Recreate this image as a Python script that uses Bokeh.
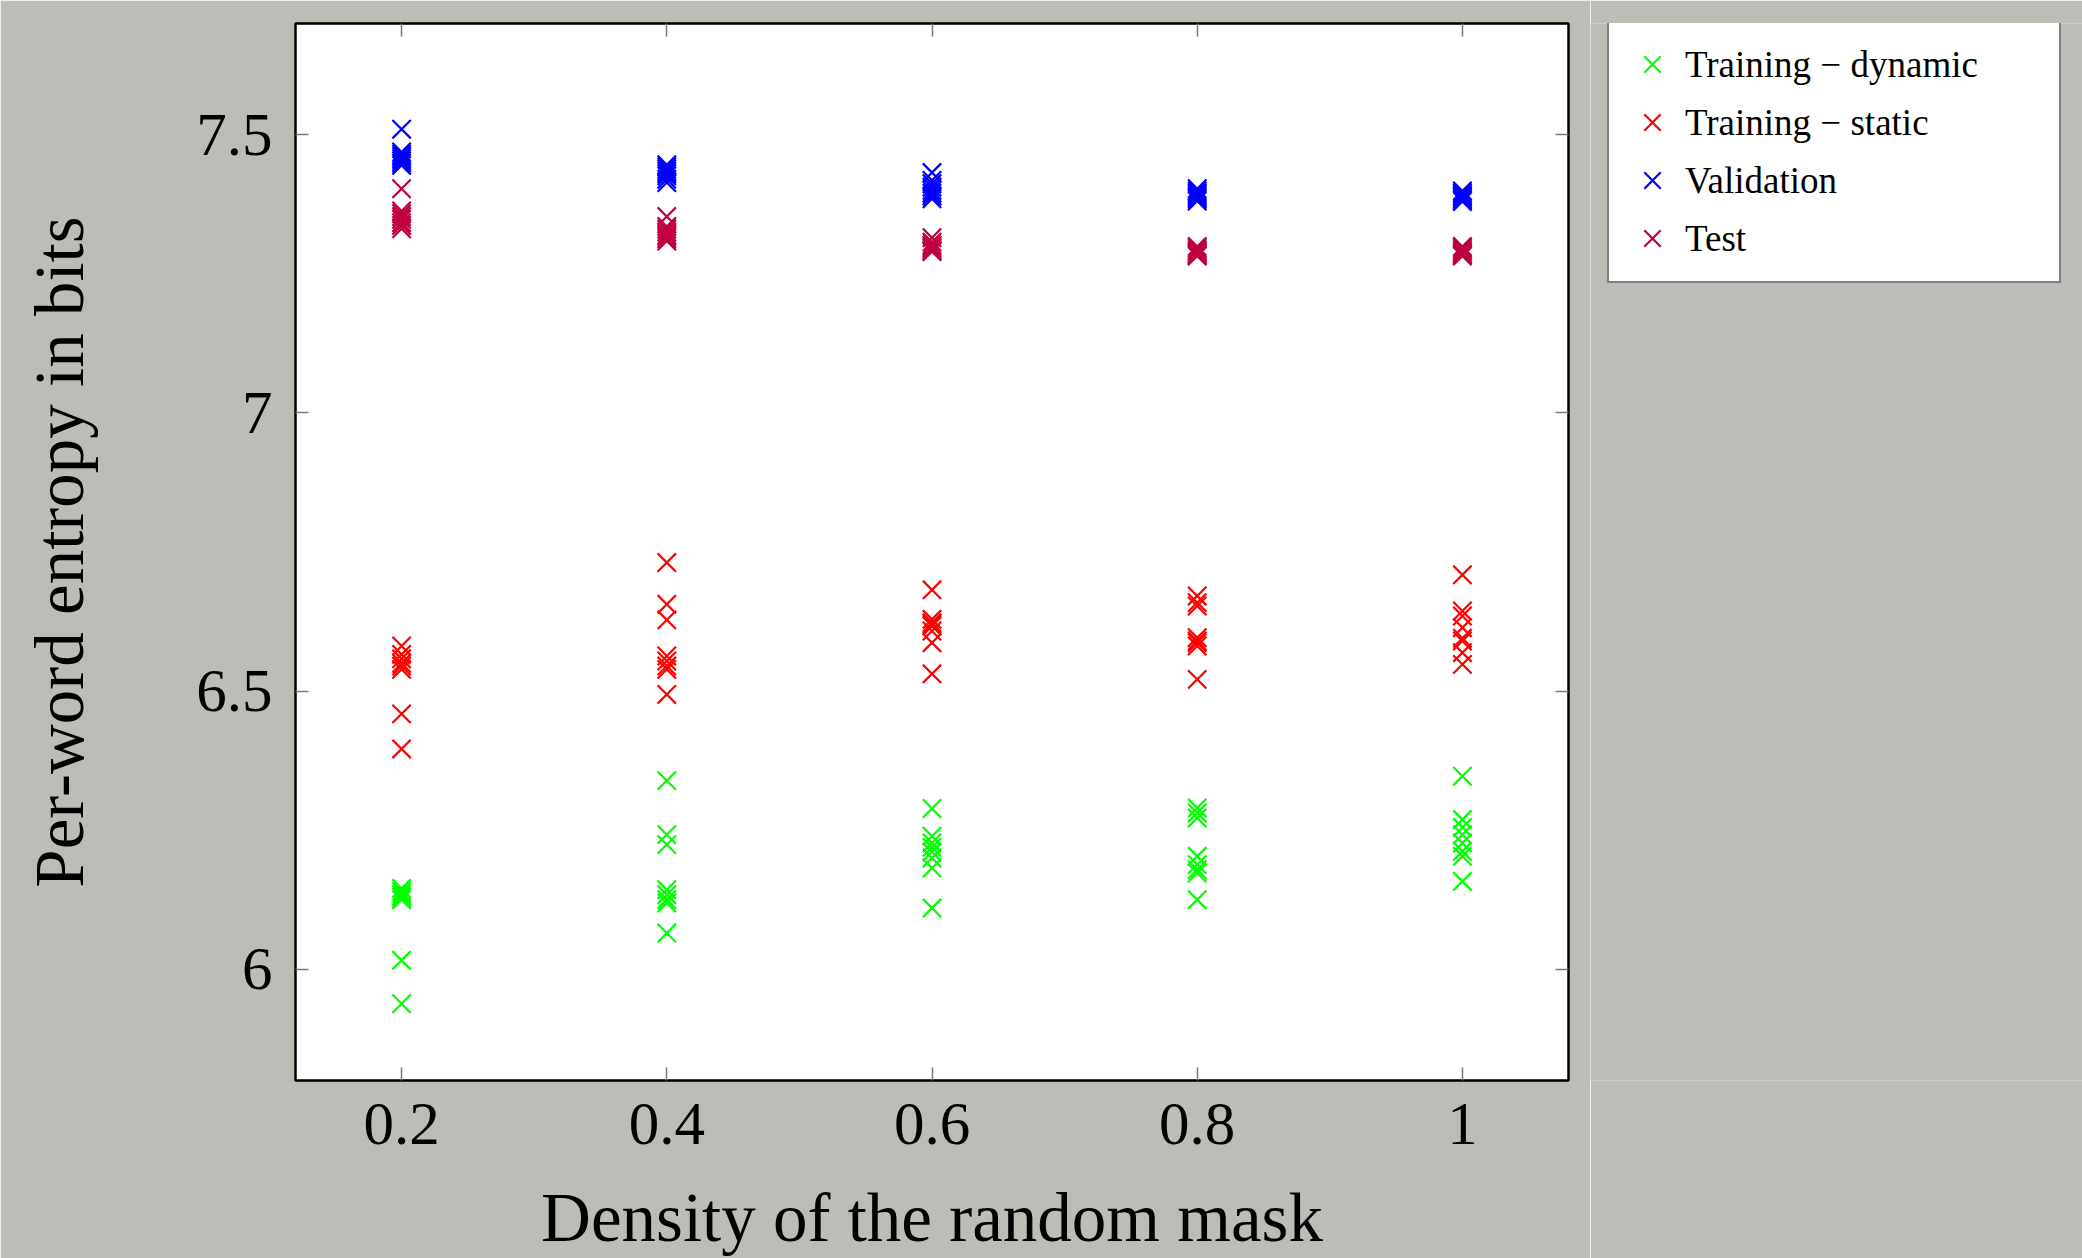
from bokeh.plotting import figure
from bokeh.layouts import row
from bokeh.models import Range1d, FixedTicker, LinearAxis, Legend, LegendItem, ColumnDataSource
from bokeh.embed import file_html
from bokeh.resources import INLINE

# ---- data ----
density = [0.2, 0.4, 0.6, 0.8, 1.0]

train_dynamic = [
    [6.145, 6.140, 6.135, 6.130, 6.130, 6.125, 6.016, 5.938],
    [6.339, 6.242, 6.224, 6.143, 6.134, 6.125, 6.119, 6.065],
    [6.289, 6.239, 6.227, 6.219, 6.211, 6.200, 6.182, 6.110],
    [6.290, 6.281, 6.272, 6.203, 6.188, 6.179, 6.173, 6.125],
    [6.347, 6.269, 6.255, 6.242, 6.227, 6.212, 6.203, 6.158],
]
train_static = [
    [6.581, 6.566, 6.558, 6.550, 6.545, 6.539, 6.459, 6.396],
    [6.731, 6.656, 6.628, 6.563, 6.554, 6.545, 6.539, 6.494],
    [6.682, 6.629, 6.623, 6.620, 6.617, 6.608, 6.587, 6.531],
    [6.671, 6.659, 6.653, 6.596, 6.590, 6.587, 6.581, 6.521],
    [6.709, 6.644, 6.635, 6.614, 6.595, 6.590, 6.569, 6.548],
]
validation = [
    [7.510, 7.469, 7.465, 7.461, 7.457, 7.453, 7.449, 7.445],
    [7.446, 7.442, 7.438, 7.434, 7.430, 7.426, 7.420, 7.414],
    [7.432, 7.418, 7.412, 7.406, 7.400, 7.395, 7.390, 7.385],
    [7.403, 7.399, 7.396, 7.393, 7.390, 7.387, 7.384, 7.381],
    [7.399, 7.396, 7.393, 7.390, 7.388, 7.385, 7.383, 7.380],
]
test = [
    [7.403, 7.363, 7.358, 7.353, 7.348, 7.342, 7.337, 7.331],
    [7.353, 7.335, 7.330, 7.325, 7.320, 7.317, 7.313, 7.309],
    [7.315, 7.307, 7.302, 7.299, 7.296, 7.293, 7.291, 7.290],
    [7.299, 7.296, 7.293, 7.290, 7.288, 7.286, 7.284, 7.282],
    [7.299, 7.296, 7.293, 7.290, 7.288, 7.286, 7.284, 7.282],
]

series_names = ["Training − dynamic", "Training − static", "Validation", "Test"]
series_colors = ["#00FF00", "#FF0000", "#0000FF", "#BF0040"]

x_ticks = [0.2, 0.4, 0.6, 0.8, 1.0]
x_tick_labels = ["0.2", "0.4", "0.6", "0.8", "1"]
y_ticks = [6, 6.5, 7, 7.5]
y_tick_labels = ["6", "6.5", "7", "7.5"]

FONT = "Liberation Serif"
BG = "#BBBDB7"

# ---- main plot ----
p = figure(width=1590, height=1258, output_backend="svg", toolbar_location=None,
           x_range=Range1d(0.12, 1.08), y_range=Range1d(5.8, 7.7),
           min_border_left=295, min_border_right=22, min_border_top=23, min_border_bottom=178,
           border_fill_color=BG, background_fill_color="white")
p.grid.visible = False
p.outline_line_color = "black"
p.outline_line_width = 2.5

# ---- legend panel (same height, frames aligned) ----
q = figure(width=492, height=1258, output_backend="svg", toolbar_location=None,
           x_range=Range1d(0, 1), y_range=Range1d(0, 1),
           x_axis_type=None, y_axis_type=None,
           min_border_left=0, min_border_right=0, min_border_top=23, min_border_bottom=178,
           border_fill_color=BG, background_fill_color=BG)
q.grid.visible = False
q.outline_line_color = None

items = []
for name, color, data in zip(series_names, series_colors, [train_dynamic, train_static, validation, test]):
    xs, ys = [], []
    for d, vals in zip(density, data):
        for v in vals:
            xs.append(d)
            ys.append(v)
    src = ColumnDataSource(dict(x=xs, y=ys))
    p.scatter("x", "y", source=src, marker="x", size=26, line_color=color, line_width=2.2)
    # legend proxy: same source and style, lies outside q's ranges so only its legend glyph shows
    proxy = q.scatter("x", "y", source=src, marker="x", size=26, line_color=color, line_width=2.2)
    items.append(LegendItem(label=name, renderers=[proxy]))

xt = FixedTicker(ticks=x_ticks)
yt = FixedTicker(ticks=y_ticks)

def style_axis(ax, labels=True):
    ax.axis_line_color = None
    ax.major_tick_in = 13
    ax.major_tick_out = 0
    ax.major_tick_line_color = "#777777"
    ax.major_tick_line_width = 1.5
    ax.minor_tick_line_color = None
    ax.major_label_text_font = FONT
    ax.major_label_text_color = "black"
    ax.axis_label_text_font = FONT
    ax.axis_label_text_font_style = "normal"
    ax.axis_label_text_color = "black"
    if not labels:
        ax.major_label_text_color = None
        ax.major_label_text_font_size = "1px"
        ax.major_label_standoff = 0

xa = p.xaxis[0]
xa.ticker = xt
style_axis(xa)
xa.major_label_overrides = {t: l for t, l in zip(x_ticks, x_tick_labels)}
xa.major_label_text_font_size = "61px"
xa.major_label_standoff = 23
xa.axis_label = "Density of the random mask"
xa.axis_label_text_font_size = "69px"
xa.axis_label_standoff = 33

ya = p.yaxis[0]
ya.ticker = yt
style_axis(ya)
ya.major_label_overrides = {t: l for t, l in zip(y_ticks, y_tick_labels)}
ya.major_label_text_font_size = "61px"
ya.major_label_standoff = 23
ya.axis_label = "Per-word entropy in bits"
ya.axis_label_text_font_size = "69px"
ya.axis_label_standoff = 95

top_ax = LinearAxis(ticker=xt)
style_axis(top_ax, labels=False)
p.add_layout(top_ax, "above")
right_ax = LinearAxis(ticker=yt)
style_axis(right_ax, labels=False)
p.add_layout(right_ax, "right")

legend = Legend(items=items, location=(17, 797))
legend.label_text_font = FONT
legend.label_text_font_size = "37px"
legend.label_text_color = "black"
legend.glyph_width = 58
legend.glyph_height = 58
legend.label_height = 58
legend.label_standoff = 4
legend.label_width = 360
legend.spacing = 0
legend.padding = 14
legend.margin = 0
legend.border_line_color = "black"
legend.border_line_width = 2.5
legend.background_fill_color = "white"
legend.background_fill_alpha = 1.0
q.add_layout(legend, "center")

layout = row(p, q, spacing=0)
open("out.html", "w").write(file_html(layout, INLINE))
